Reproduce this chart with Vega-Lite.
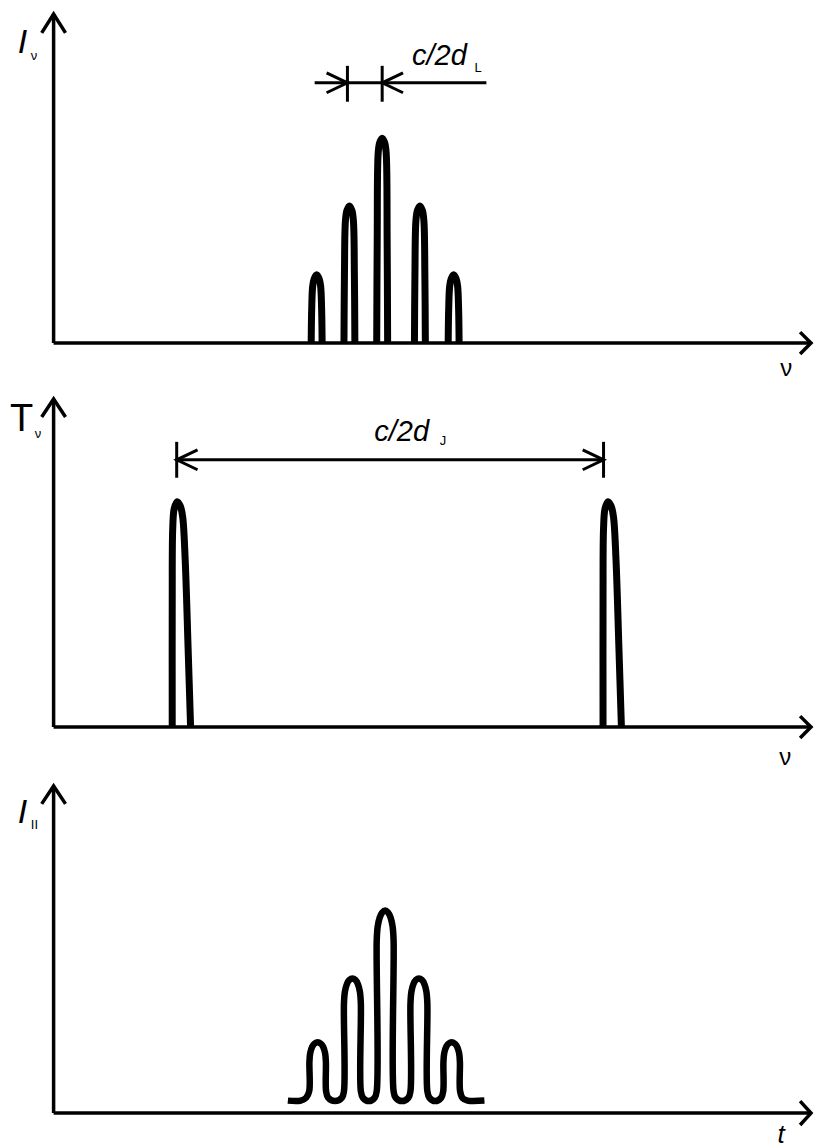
{
  "$schema": "https://vega.github.io/schema/vega-lite/v6.json",
  "autosize": {"type": "fit", "contains": "padding"},
  "width": 818,
  "height": 1148,
  "padding": 0,
  "background": "white",
  "config": {"view": {"stroke": null}, "font": "Liberation Sans"},
  "datasets": {
    "strokes": [
      {"kind": "axis", "g": "a1y", "o": 1, "x": 54, "y": 14}, {"kind": "axis", "g": "a1y", "o": 2, "x": 54, "y": 344},
      {"kind": "axis", "g": "a1x", "o": 1, "x": 54, "y": 344}, {"kind": "axis", "g": "a1x", "o": 2, "x": 817, "y": 344},
      {"kind": "axis", "g": "h1y", "o": 1, "x": 42, "y": 33}, {"kind": "axis", "g": "h1y", "o": 2, "x": 54, "y": 14}, {"kind": "axis", "g": "h1y", "o": 3, "x": 66, "y": 33},
      {"kind": "axis", "g": "h1x", "o": 1, "x": 806, "y": 333}, {"kind": "axis", "g": "h1x", "o": 2, "x": 817, "y": 344}, {"kind": "axis", "g": "h1x", "o": 3, "x": 806, "y": 355},
      {"kind": "axis", "g": "a2y", "o": 1, "x": 54, "y": 400}, {"kind": "axis", "g": "a2y", "o": 2, "x": 54, "y": 729},
      {"kind": "axis", "g": "a2x", "o": 1, "x": 54, "y": 729}, {"kind": "axis", "g": "a2x", "o": 2, "x": 817, "y": 729},
      {"kind": "axis", "g": "h2y", "o": 1, "x": 42, "y": 418}, {"kind": "axis", "g": "h2y", "o": 2, "x": 54, "y": 400}, {"kind": "axis", "g": "h2y", "o": 3, "x": 66, "y": 418},
      {"kind": "axis", "g": "h2x", "o": 1, "x": 806, "y": 718}, {"kind": "axis", "g": "h2x", "o": 2, "x": 817, "y": 729}, {"kind": "axis", "g": "h2x", "o": 3, "x": 806, "y": 740},
      {"kind": "axis", "g": "a3y", "o": 1, "x": 54, "y": 788}, {"kind": "axis", "g": "a3y", "o": 2, "x": 54, "y": 1116},
      {"kind": "axis", "g": "a3x", "o": 1, "x": 54, "y": 1116}, {"kind": "axis", "g": "a3x", "o": 2, "x": 817, "y": 1116},
      {"kind": "axis", "g": "h3y", "o": 1, "x": 42, "y": 806}, {"kind": "axis", "g": "h3y", "o": 2, "x": 54, "y": 788}, {"kind": "axis", "g": "h3y", "o": 3, "x": 66, "y": 806},
      {"kind": "axis", "g": "h3x", "o": 1, "x": 806, "y": 1104}, {"kind": "axis", "g": "h3x", "o": 2, "x": 817, "y": 1116}, {"kind": "axis", "g": "h3x", "o": 3, "x": 806, "y": 1128},
      {"kind": "dim", "g": "d1", "o": 1, "x": 317, "y": 83}, {"kind": "dim", "g": "d1", "o": 2, "x": 490, "y": 83},
      {"kind": "dim", "g": "d1t1", "o": 1, "x": 350, "y": 66}, {"kind": "dim", "g": "d1t1", "o": 2, "x": 350, "y": 102},
      {"kind": "dim", "g": "d1t2", "o": 1, "x": 385, "y": 66}, {"kind": "dim", "g": "d1t2", "o": 2, "x": 385, "y": 102},
      {"kind": "dim", "g": "d1h1", "o": 1, "x": 329, "y": 73}, {"kind": "dim", "g": "d1h1", "o": 2, "x": 350, "y": 83}, {"kind": "dim", "g": "d1h1", "o": 3, "x": 329, "y": 93},
      {"kind": "dim", "g": "d1h2", "o": 1, "x": 406, "y": 73}, {"kind": "dim", "g": "d1h2", "o": 2, "x": 385, "y": 83}, {"kind": "dim", "g": "d1h2", "o": 3, "x": 406, "y": 93},
      {"kind": "dim", "g": "d2", "o": 1, "x": 178, "y": 461}, {"kind": "dim", "g": "d2", "o": 2, "x": 608, "y": 461},
      {"kind": "dim", "g": "d2t1", "o": 1, "x": 178, "y": 443}, {"kind": "dim", "g": "d2t1", "o": 2, "x": 178, "y": 479},
      {"kind": "dim", "g": "d2t2", "o": 1, "x": 608, "y": 443}, {"kind": "dim", "g": "d2t2", "o": 2, "x": 608, "y": 479},
      {"kind": "dim", "g": "d2h1", "o": 1, "x": 199, "y": 451}, {"kind": "dim", "g": "d2h1", "o": 2, "x": 178, "y": 461}, {"kind": "dim", "g": "d2h1", "o": 3, "x": 199, "y": 471},
      {"kind": "dim", "g": "d2h2", "o": 1, "x": 587, "y": 451}, {"kind": "dim", "g": "d2h2", "o": 2, "x": 608, "y": 461}, {"kind": "dim", "g": "d2h2", "o": 3, "x": 587, "y": 471}
    ],
    "peaks": [
      {"g": "A", "o": 1, "x": 313.5, "y": 344}, {"g": "A", "o": 2, "x": 314, "y": 310}, {"g": "A", "o": 3, "x": 315, "y": 287}, {"g": "A", "o": 4, "x": 316.5, "y": 279.5}, {"g": "A", "o": 5, "x": 319, "y": 275.5}, {"g": "A", "o": 6, "x": 321.5, "y": 279.5}, {"g": "A", "o": 7, "x": 323, "y": 287}, {"g": "A", "o": 8, "x": 324, "y": 310}, {"g": "A", "o": 9, "x": 324.5, "y": 344},
      {"g": "B", "o": 1, "x": 346.5, "y": 344}, {"g": "B", "o": 2, "x": 347, "y": 275}, {"g": "B", "o": 3, "x": 348, "y": 221}, {"g": "B", "o": 4, "x": 349.5, "y": 211}, {"g": "B", "o": 5, "x": 352, "y": 206.5}, {"g": "B", "o": 6, "x": 354.5, "y": 211}, {"g": "B", "o": 7, "x": 356, "y": 221}, {"g": "B", "o": 8, "x": 357, "y": 275}, {"g": "B", "o": 9, "x": 357.5, "y": 344},
      {"g": "C", "o": 1, "x": 379.5, "y": 344}, {"g": "C", "o": 2, "x": 380, "y": 241}, {"g": "C", "o": 3, "x": 381, "y": 153}, {"g": "C", "o": 4, "x": 382.5, "y": 143}, {"g": "C", "o": 5, "x": 385, "y": 138.5}, {"g": "C", "o": 6, "x": 387.5, "y": 143}, {"g": "C", "o": 7, "x": 389, "y": 153}, {"g": "C", "o": 8, "x": 390, "y": 241}, {"g": "C", "o": 9, "x": 390.5, "y": 344},
      {"g": "D", "o": 1, "x": 417.5, "y": 344}, {"g": "D", "o": 2, "x": 418, "y": 275}, {"g": "D", "o": 3, "x": 419, "y": 221}, {"g": "D", "o": 4, "x": 420.5, "y": 211}, {"g": "D", "o": 5, "x": 423, "y": 206.5}, {"g": "D", "o": 6, "x": 425.5, "y": 211}, {"g": "D", "o": 7, "x": 427, "y": 221}, {"g": "D", "o": 8, "x": 428, "y": 275}, {"g": "D", "o": 9, "x": 428.5, "y": 344},
      {"g": "E", "o": 1, "x": 451.5, "y": 344}, {"g": "E", "o": 2, "x": 452, "y": 310}, {"g": "E", "o": 3, "x": 453, "y": 287}, {"g": "E", "o": 4, "x": 454.5, "y": 279.5}, {"g": "E", "o": 5, "x": 457, "y": 275.5}, {"g": "E", "o": 6, "x": 459.5, "y": 279.5}, {"g": "E", "o": 7, "x": 461, "y": 287}, {"g": "E", "o": 8, "x": 462, "y": 310}, {"g": "E", "o": 9, "x": 462.5, "y": 344},
      {"g": "F", "o": 1, "x": 173.5, "y": 729}, {"g": "F", "o": 2, "x": 173.5, "y": 600}, {"g": "F", "o": 3, "x": 174, "y": 530}, {"g": "F", "o": 4, "x": 175.5, "y": 510}, {"g": "F", "o": 5, "x": 178.5, "y": 503}, {"g": "F", "o": 6, "x": 181.5, "y": 507}, {"g": "F", "o": 7, "x": 184, "y": 518}, {"g": "F", "o": 8, "x": 186.5, "y": 560}, {"g": "F", "o": 9, "x": 189.5, "y": 650}, {"g": "F", "o": 10, "x": 192, "y": 729},
      {"g": "G", "o": 1, "x": 607.5, "y": 729}, {"g": "G", "o": 2, "x": 607.5, "y": 600}, {"g": "G", "o": 3, "x": 608, "y": 530}, {"g": "G", "o": 4, "x": 609.5, "y": 510}, {"g": "G", "o": 5, "x": 612.5, "y": 503}, {"g": "G", "o": 6, "x": 615.5, "y": 507}, {"g": "G", "o": 7, "x": 618, "y": 518}, {"g": "G", "o": 8, "x": 620.5, "y": 560}, {"g": "G", "o": 9, "x": 623.5, "y": 650}, {"g": "G", "o": 10, "x": 626, "y": 729}
    ],
    "signal": [
      {"o": 1, "x": 290, "y": 1103.5}, {"o": 2, "x": 303, "y": 1103.5}, {"o": 3, "x": 308.5, "y": 1100.5},
      {"o": 4, "x": 311.5, "y": 1094}, {"o": 5, "x": 311.7, "y": 1065}, {"o": 6, "x": 312.5, "y": 1056}, {"o": 7, "x": 314.5, "y": 1049.5}, {"o": 8, "x": 317, "y": 1046.2}, {"o": 9, "x": 320, "y": 1045}, {"o": 10, "x": 323, "y": 1046.2}, {"o": 11, "x": 325.5, "y": 1049.5}, {"o": 12, "x": 327.5, "y": 1056}, {"o": 13, "x": 328.3, "y": 1065}, {"o": 14, "x": 328.5, "y": 1094},
      {"o": 15, "x": 330.5, "y": 1100.5}, {"o": 16, "x": 337.5, "y": 1104}, {"o": 17, "x": 344.5, "y": 1100.5},
      {"o": 18, "x": 346.5, "y": 1094}, {"o": 19, "x": 346.5, "y": 1006}, {"o": 20, "x": 347.5, "y": 994}, {"o": 21, "x": 349.5, "y": 986.5}, {"o": 22, "x": 352, "y": 982.5}, {"o": 23, "x": 355, "y": 981}, {"o": 24, "x": 358, "y": 982.5}, {"o": 25, "x": 360.5, "y": 986.5}, {"o": 26, "x": 362.5, "y": 994}, {"o": 27, "x": 363.5, "y": 1006}, {"o": 28, "x": 363.5, "y": 1094},
      {"o": 29, "x": 365.5, "y": 1100.5}, {"o": 30, "x": 371.5, "y": 1104}, {"o": 31, "x": 377.5, "y": 1100.5},
      {"o": 32, "x": 379.5, "y": 1094}, {"o": 33, "x": 379.5, "y": 943}, {"o": 34, "x": 380.5, "y": 929}, {"o": 35, "x": 382.5, "y": 920}, {"o": 36, "x": 385, "y": 915}, {"o": 37, "x": 388, "y": 913}, {"o": 38, "x": 391, "y": 915}, {"o": 39, "x": 393.5, "y": 920}, {"o": 40, "x": 395.5, "y": 929}, {"o": 41, "x": 396.5, "y": 943}, {"o": 42, "x": 396.5, "y": 1094},
      {"o": 43, "x": 398.5, "y": 1100.5}, {"o": 44, "x": 405, "y": 1104}, {"o": 45, "x": 411.5, "y": 1100.5},
      {"o": 46, "x": 413.5, "y": 1094}, {"o": 47, "x": 413.5, "y": 1006}, {"o": 48, "x": 414.5, "y": 994}, {"o": 49, "x": 416.5, "y": 986.5}, {"o": 50, "x": 419, "y": 982.5}, {"o": 51, "x": 422, "y": 981}, {"o": 52, "x": 425, "y": 982.5}, {"o": 53, "x": 427.5, "y": 986.5}, {"o": 54, "x": 429.5, "y": 994}, {"o": 55, "x": 430.5, "y": 1006}, {"o": 56, "x": 430.5, "y": 1094},
      {"o": 57, "x": 432.5, "y": 1100.5}, {"o": 58, "x": 438.5, "y": 1104}, {"o": 59, "x": 444.5, "y": 1100.5},
      {"o": 60, "x": 446.5, "y": 1094}, {"o": 61, "x": 446.7, "y": 1065}, {"o": 62, "x": 447.5, "y": 1056}, {"o": 63, "x": 449.5, "y": 1049.5}, {"o": 64, "x": 452, "y": 1046.2}, {"o": 65, "x": 455, "y": 1045}, {"o": 66, "x": 458, "y": 1046.2}, {"o": 67, "x": 460.5, "y": 1049.5}, {"o": 68, "x": 462.5, "y": 1056}, {"o": 69, "x": 463.3, "y": 1065}, {"o": 70, "x": 463.5, "y": 1094},
      {"o": 71, "x": 466, "y": 1101}, {"o": 72, "x": 471, "y": 1103.5}, {"o": 73, "x": 488, "y": 1103.5}
    ],
    "labels": [
      {"kind": "bigI", "label": "I", "x": 18, "y": 53},
      {"kind": "bigI", "label": "I", "x": 18, "y": 825},
      {"kind": "T", "label": "T", "x": 10, "y": 432},
      {"kind": "formula", "label": "c/2d", "x": 415, "y": 65},
      {"kind": "formula", "label": "c/2d", "x": 377, "y": 442},
      {"kind": "sub", "label": "ν", "x": 31, "y": 60},
      {"kind": "sub", "label": "ν", "x": 35, "y": 439},
      {"kind": "sub", "label": "II", "x": 31, "y": 831},
      {"kind": "sub", "label": "L", "x": 478, "y": 72},
      {"kind": "sub", "label": "J", "x": 443, "y": 446},
      {"kind": "axlab", "label": "ν", "x": 792, "y": 377},
      {"kind": "axlab", "label": "ν", "x": 791, "y": 767},
      {"kind": "tlab", "label": "t", "x": 787, "y": 1146}
    ]
  },
  "encoding": {
    "x": {"field": "x", "type": "quantitative", "scale": {"domain": [0, 818], "nice": false, "zero": false}, "axis": null},
    "y": {"field": "y", "type": "quantitative", "scale": {"domain": [0, 1148], "nice": false, "zero": false, "reverse": true}, "axis": null}
  },
  "layer": [
    {
      "data": {"name": "strokes"},
      "transform": [{"filter": "datum.kind === 'axis'"}],
      "mark": {"type": "line", "color": "black", "strokeWidth": 3.5, "clip": false},
      "encoding": {"detail": {"field": "g"}, "order": {"field": "o", "type": "quantitative"}}
    },
    {
      "data": {"name": "strokes"},
      "transform": [{"filter": "datum.kind === 'dim'"}],
      "mark": {"type": "line", "color": "black", "strokeWidth": 3, "clip": false},
      "encoding": {"detail": {"field": "g"}, "order": {"field": "o", "type": "quantitative"}}
    },
    {
      "data": {"name": "peaks"},
      "mark": {"type": "line", "color": "black", "strokeWidth": 7, "interpolate": "catmull-rom"},
      "encoding": {"detail": {"field": "g"}, "order": {"field": "o", "type": "quantitative"}}
    },
    {
      "data": {"name": "signal"},
      "mark": {"type": "line", "color": "black", "strokeWidth": 6.5, "interpolate": "catmull-rom", "strokeJoin": "round"},
      "encoding": {"order": {"field": "o", "type": "quantitative"}}
    },
    {
      "data": {"name": "labels"},
      "transform": [{"filter": "datum.kind === 'bigI'"}],
      "mark": {"type": "text", "font": "Liberation Sans", "fontStyle": "italic", "fontSize": 34, "align": "left", "baseline": "alphabetic", "fill": "black"},
      "encoding": {"text": {"field": "label"}}
    },
    {
      "data": {"name": "labels"},
      "transform": [{"filter": "datum.kind === 'T'"}],
      "mark": {"type": "text", "font": "Liberation Sans", "fontSize": 38, "align": "left", "baseline": "alphabetic", "fill": "black"},
      "encoding": {"text": {"field": "label"}}
    },
    {
      "data": {"name": "labels"},
      "transform": [{"filter": "datum.kind === 'formula'"}],
      "mark": {"type": "text", "font": "Liberation Sans", "fontStyle": "italic", "fontSize": 29, "align": "left", "baseline": "alphabetic", "fill": "black"},
      "encoding": {"text": {"field": "label"}}
    },
    {
      "data": {"name": "labels"},
      "transform": [{"filter": "datum.kind === 'sub'"}],
      "mark": {"type": "text", "font": "Liberation Sans", "fontSize": 13, "align": "left", "baseline": "alphabetic", "fill": "black"},
      "encoding": {"text": {"field": "label"}}
    },
    {
      "data": {"name": "labels"},
      "transform": [{"filter": "datum.kind === 'axlab'"}],
      "mark": {"type": "text", "font": "Liberation Sans", "fontSize": 24, "align": "center", "baseline": "alphabetic", "fill": "black"},
      "encoding": {"text": {"field": "label"}}
    },
    {
      "data": {"name": "labels"},
      "transform": [{"filter": "datum.kind === 'tlab'"}],
      "mark": {"type": "text", "font": "Liberation Sans", "fontStyle": "italic", "fontSize": 26, "align": "center", "baseline": "alphabetic", "fill": "black"},
      "encoding": {"text": {"field": "label"}}
    }
  ]
}
